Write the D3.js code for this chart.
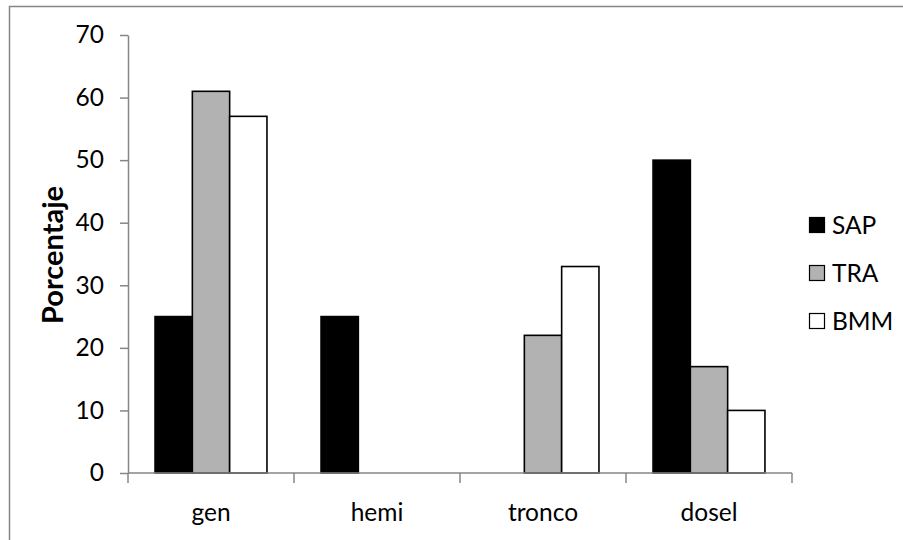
<!DOCTYPE html>
<html>
<head>
<meta charset="utf-8">
<script src="https://cdn.jsdelivr.net/npm/d3@7"></script>
<style>
  html, body { margin: 0; padding: 0; background: #fff; }
  svg { display: block; }
  text { font-family: Lato, "Noto Sans", sans-serif; fill: #000; }
</style>
</head>
<body>
<svg id="chart" width="903" height="540"></svg>
<script>
// Habitat categories and the share (%) recorded for each group
const categories = ["gen", "hemi", "tronco", "dosel"];
const seriesNames = ["SAP", "TRA", "BMM"];
const SAP = [25, 25, 0, 50];
const TRA = [61, 0, 22, 17];
const BMM = [57, 0, 33, 10];
const yTicks = [0, 10, 20, 30, 40, 50, 60, 70];
const yLabel = "Porcentaje";

const seriesValues = { SAP, TRA, BMM };
const fills = { SAP: "#000000", TRA: "#b2b2b2", BMM: "#ffffff" };

const svg = d3.select("#chart");
const axisColor = "#868686";
const fontSize = 24.5;

// outer chart frame
svg.append("rect")
  .attr("x", 9.5).attr("y", 6.5)
  .attr("width", 1000).attr("height", 1000)
  .attr("fill", "none").attr("stroke", axisColor).attr("stroke-width", 1.5);

const plot = { left: 128, right: 792, top: 35, bottom: 473 };

const x = d3.scaleBand().domain(categories).range([plot.left, plot.right]);
const gapRatio = 1.45;
const barW = x.bandwidth() / (seriesNames.length + gapRatio);
const xs = d3.scaleBand().domain(seriesNames)
  .range([barW * gapRatio / 2, barW * gapRatio / 2 + barW * seriesNames.length]);
const y = d3.scaleLinear().domain([0, 70]).range([plot.bottom, plot.top]);

// y axis
const yAxis = svg.append("g")
  .attr("transform", `translate(${plot.left},0)`)
  .call(d3.axisLeft(y).tickValues(yTicks).tickSize(8).tickPadding(16).tickSizeOuter(0));
yAxis.select(".domain").attr("stroke", axisColor).attr("stroke-width", 1.5);
yAxis.selectAll(".tick line").attr("stroke", axisColor).attr("stroke-width", 1.5);
yAxis.selectAll(".tick text")
  .attr("font-size", fontSize).attr("font-family", "Lato, 'Noto Sans', sans-serif")
  .attr("fill", "#000");

// bars
const groups = svg.append("g").selectAll("g")
  .data(categories)
  .join("g")
  .attr("transform", d => `translate(${x(d)},0)`);

groups.selectAll("rect")
  .data((c, i) => seriesNames.map(s => ({ s, v: seriesValues[s][i] })).filter(d => d.v > 0))
  .join("rect")
  .attr("x", d => xs(d.s))
  .attr("width", xs.bandwidth())
  .attr("y", d => y(d.v))
  .attr("height", d => y(0) - y(d.v))
  .attr("fill", d => fills[d.s])
  .attr("stroke", "#000")
  .attr("stroke-width", 1.6);

// x axis with ticks between categories
const xAxisG = svg.append("g");
xAxisG.append("line")
  .attr("x1", plot.left).attr("x2", plot.right)
  .attr("y1", y(0)).attr("y2", y(0))
  .attr("stroke", axisColor).attr("stroke-width", 1.5);
const boundaries = categories.map(c => x(c)).concat([x(categories[categories.length - 1]) + x.bandwidth()]);
xAxisG.selectAll("line.tick")
  .data(boundaries)
  .join("line")
  .attr("class", "tick")
  .attr("x1", d => d).attr("x2", d => d)
  .attr("y1", y(0)).attr("y2", y(0) + 10)
  .attr("stroke", axisColor).attr("stroke-width", 1.5);
xAxisG.selectAll("text")
  .data(categories)
  .join("text")
  .attr("x", d => x(d) + x.bandwidth() / 2)
  .attr("y", 521)
  .attr("text-anchor", "middle")
  .attr("font-size", fontSize)
  .text(d => d);

// y axis title
svg.append("text")
  .attr("transform", "translate(63,255) rotate(-90)")
  .attr("text-anchor", "middle")
  .attr("font-size", 29)
  .attr("font-weight", "bold")
  .text(yLabel);

// legend
const legend = svg.append("g").selectAll("g")
  .data(seriesNames)
  .join("g")
  .attr("transform", (d, i) => `translate(809,${225 + i * 48})`);
legend.append("rect")
  .attr("x", 0.5).attr("y", -7.5)
  .attr("width", 15).attr("height", 15)
  .attr("fill", d => fills[d])
  .attr("stroke", "#000").attr("stroke-width", 1.2);
legend.append("text")
  .attr("x", 23).attr("y", 0)
  .attr("dy", "0.35em")
  .attr("font-size", fontSize)
  .text(d => d);
</script>
</body>
</html>
